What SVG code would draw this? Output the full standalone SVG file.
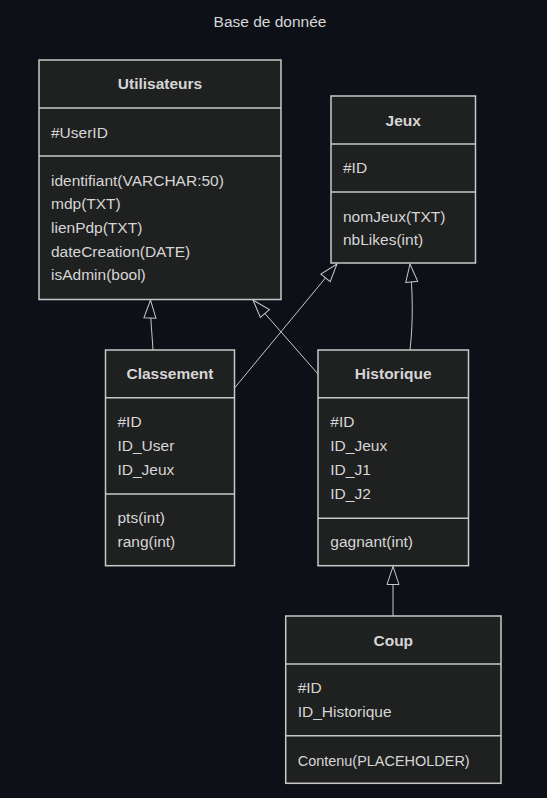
<svg xmlns="http://www.w3.org/2000/svg" width="547" height="798" viewBox="0 0 547 798">
<style>
.bg{fill:#0d1117}
.box{fill:#1f2020;stroke:#c8c8c8;stroke-width:1.5}
.div{stroke:#c8c8c8;stroke-width:1.5}
text{font-family:"Liberation Sans",Arial,sans-serif;font-size:15.5px;fill:#d6d6d6;dominant-baseline:central}
.t{font-weight:bold;text-anchor:middle}
.edge{fill:none;stroke:#c8c8c8;stroke-width:1}
</style>
<defs>
<marker id="ext" markerUnits="userSpaceOnUse" viewBox="0 0 20 14" refX="19" refY="7" markerWidth="20" markerHeight="14" orient="auto">
<path d="M1,1 L1,13 L19,7 Z" fill="#0d1117" stroke="#c8c8c8" stroke-width="1"/>
</marker>
</defs>
<rect class="bg" x="0" y="0" width="547" height="798"/>
<text x="270" y="21.5" style="text-anchor:middle">Base de donnée</text>

<g id="edges">
<path class="edge" d="M153,350 C152,332 150,316 150.5,300" marker-end="url(#ext)"/>
<path class="edge" d="M234.5,388 L337,264" marker-end="url(#ext)"/>
<path class="edge" d="M318,374 L253,300" marker-end="url(#ext)"/>
<path class="edge" d="M410,350 C413.5,320 412.5,290 410,264" marker-end="url(#ext)"/>
<path class="edge" d="M393,616 L393,566.5" marker-end="url(#ext)"/>
</g>

<g id="Utilisateurs">
<rect class="box" x="39" y="60" width="242" height="239.5"/>
<line class="div" x1="39" y1="108" x2="281" y2="108"/>
<line class="div" x1="39" y1="156" x2="281" y2="156"/>
<text class="t" x="160" y="83.5">Utilisateurs</text>
<text x="51" y="132">#UserID</text>
<text x="51" y="180">identifiant(VARCHAR:50)</text>
<text x="51" y="203.7">mdp(TXT)</text>
<text x="51" y="227.4">lienPdp(TXT)</text>
<text x="51" y="251.1">dateCreation(DATE)</text>
<text x="51" y="274.8">isAdmin(bool)</text>
</g>

<g id="Jeux">
<rect class="box" x="331" y="96" width="144.5" height="167"/>
<line class="div" x1="331" y1="144" x2="475.5" y2="144"/>
<line class="div" x1="331" y1="192" x2="475.5" y2="192"/>
<text class="t" x="403.2" y="120">Jeux</text>
<text x="343" y="167.7">#ID</text>
<text x="343" y="216">nomJeux(TXT)</text>
<text x="343" y="239.3">nbLikes(int)</text>
</g>

<g id="Classement">
<rect class="box" x="105.5" y="350" width="129" height="215.7"/>
<line class="div" x1="105.5" y1="397.7" x2="234.5" y2="397.7"/>
<line class="div" x1="105.5" y1="494" x2="234.5" y2="494"/>
<text class="t" x="170" y="373.3">Classement</text>
<text x="117.5" y="421.7">#ID</text>
<text x="117.5" y="445.5">ID_User</text>
<text x="117.5" y="469.3">ID_Jeux</text>
<text x="117.5" y="517.7">pts(int)</text>
<text x="117.5" y="541.7">rang(int)</text>
</g>

<g id="Historique">
<rect class="box" x="318" y="350" width="150.5" height="215.7"/>
<line class="div" x1="318" y1="397.7" x2="468.5" y2="397.7"/>
<line class="div" x1="318" y1="518.3" x2="468.5" y2="518.3"/>
<text class="t" x="393.2" y="373.3">Historique</text>
<text x="330.3" y="421.7">#ID</text>
<text x="330.3" y="445.5">ID_Jeux</text>
<text x="330.3" y="469.3">ID_J1</text>
<text x="330.3" y="493.5">ID_J2</text>
<text x="330.3" y="541.7">gagnant(int)</text>
</g>

<g id="Coup">
<rect class="box" x="285.7" y="616" width="215.3" height="167.3"/>
<line class="div" x1="285.7" y1="664" x2="501" y2="664"/>
<line class="div" x1="285.7" y1="735.7" x2="501" y2="735.7"/>
<text class="t" x="393.3" y="640">Coup</text>
<text x="297.7" y="687.7">#ID</text>
<text x="297.7" y="711.7">ID_Historique</text>
<text x="297.7" y="760" textLength="172" lengthAdjust="spacingAndGlyphs">Contenu(PLACEHOLDER)</text>
</g>
</svg>
